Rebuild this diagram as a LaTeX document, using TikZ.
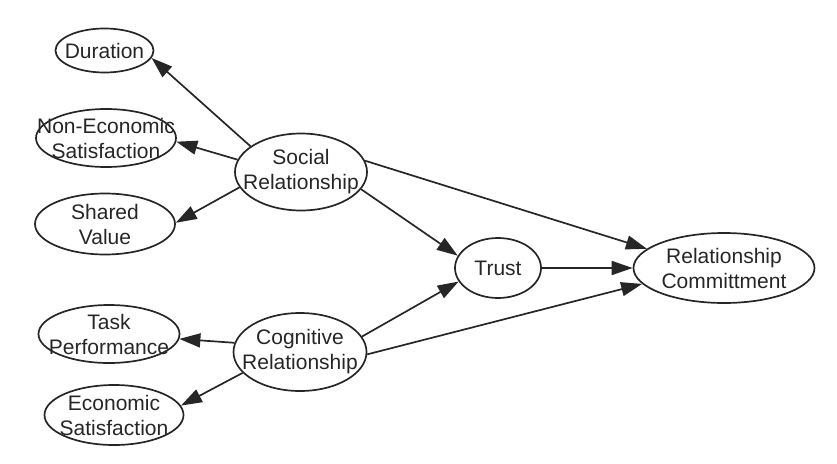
\documentclass[tikz,border=0pt]{standalone}
\usepackage{fontspec}
\setmainfont{Liberation Sans}
\usetikzlibrary{arrows.meta,shapes.geometric}
\begin{document}
\begin{tikzpicture}[x=1pt,y=-1pt,
  ell/.style={draw=black!85, line width=1.7pt, ellipse, inner sep=0pt},
  lbl/.style={text=black!85, align=center, inner sep=0pt, font=\fontsize{21}{25}\selectfont},
  arr/.style={draw=black!85, line width=1.7pt, -{Triangle[length=21pt,width=14pt]}}]
\useasboundingbox (0,0) rectangle (837,463);
% ellipses
\node[ell, minimum width=98pt, minimum height=44pt] (dur) at (104.5,50.5) {};
\node[ell, minimum width=140pt, minimum height=58pt] (nes) at (106,138) {};
\node[ell, minimum width=140pt, minimum height=61pt] (shv) at (105,224) {};
\node[ell, minimum width=132pt, minimum height=77pt] (soc) at (301,172) {};
\node[ell, minimum width=141pt, minimum height=58pt] (tsk) at (109,334) {};
\node[ell, minimum width=139pt, minimum height=60pt] (eco) at (114,415) {};
\node[ell, minimum width=133pt, minimum height=78pt] (cog) at (300,352) {};
\node[ell, minimum width=86pt, minimum height=60pt] (tru) at (498,268) {};
\node[ell, minimum width=181pt, minimum height=70pt] (rcm) at (724,268) {};
% texts
\node[lbl] (durT) at (dur) {Duration};
\node[lbl] (nesT) at (nes) {Non-Economic\\Satisfaction};
\node[lbl] (shvT) at (shv) {Shared\\Value};
\node[lbl] (socT) at (soc) {Social\\Relationship};
\node[lbl] (tskT) at (tsk) {Task\\Performance};
\node[lbl] (ecoT) at (eco) {Economic\\Satisfaction};
\node[lbl] (cogT) at (cog) {Cognitive\\Relationship};
\node[lbl] (truT) at (tru) {Trust};
\node[lbl] (rcmT) at (rcm) {Relationship\\Committment};
% connectors
\draw[arr] (soc.153) -- (dur.-9);
\draw[arr] (soc.169) -- (nes.-3);
\draw[arr] (soc.194) -- (shv.1);
\draw[arr] (soc.10) -- (rcm.166);
\draw[arr] (soc.-16) -- (tru.163);
\draw[arr] (tru.0) -- (rcm.180);
\draw[arr] (cog.14) -- (tru.199);
\draw[arr] (cog.-2) -- (rcm.191);
\draw[arr] (cog.172) -- (tsk.-4);
\draw[arr] (cog.200) -- (eco.8);
\end{tikzpicture}
\end{document}
